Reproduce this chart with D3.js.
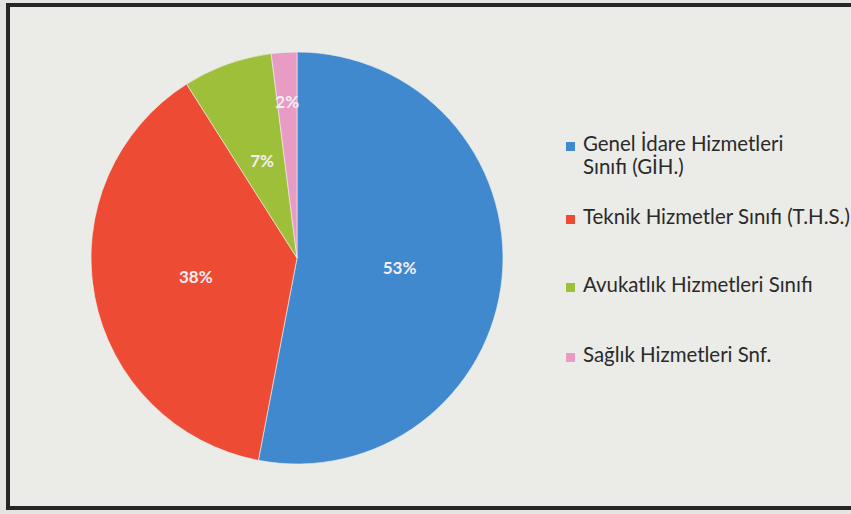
<!DOCTYPE html>
<html>
<head>
<meta charset="utf-8">
<script src="https://cdn.jsdelivr.net/npm/d3@7"></script>
<style>
  html, body { margin: 0; padding: 0; background: #e6e6e3; }
  svg { display: block; }
</style>
</head>
<body>
<svg id="chart" width="851" height="514"></svg>
<script>
// Data
const categories = [
  "Genel İdare Hizmetleri Sınıfı (GİH.)",
  "Teknik Hizmetler Sınıfı (T.H.S.)",
  "Avukatlık Hizmetleri Sınıfı",
  "Sağlık Hizmetleri Snf."
];
const legendLines = [
  ["Genel İdare Hizmetleri", "Sınıfı (GİH.)"],
  ["Teknik Hizmetler Sınıfı (T.H.S.)"],
  ["Avukatlık Hizmetleri Sınıfı"],
  ["Sağlık Hizmetleri Snf."]
];
const values = [53, 38, 7, 2];
const colors = ["#4189cf", "#ee4b34", "#9dbf3a", "#e89cc4"];

const W = 851, H = 514;
const svg = d3.select("#chart");
const font = "Lato, 'Open Sans', sans-serif";

// frame background
svg.append("rect").attr("x", 0).attr("y", 0).attr("width", W).attr("height", H).attr("fill", "#e4e4e1");
svg.append("rect").attr("x", 8).attr("y", 5).attr("width", W).attr("height", 503)
  .attr("fill", "#ebebe8").attr("stroke", "#262626").attr("stroke-width", 4);

const cx = 297, cy = 258, r = 206;
const total = d3.sum(values);
const pie = d3.pie().sort(null).value(d => d)(values);
const arc = d3.arc().innerRadius(0).outerRadius(r);

const g = svg.append("g").attr("transform", `translate(${cx},${cy})`);
g.selectAll("path").data(pie).join("path")
  .attr("d", arc)
  .attr("fill", (d, i) => colors[i])
  .attr("stroke", "#f2f2f0").attr("stroke-width", 0.6);

g.selectAll("text").data(pie).join("text")
  .attr("transform", d => {
    const frac = d.data / total;
    const lr = frac < 0.04 ? r * 0.76 : r * 0.5;
    const a = (d.startAngle + d.endAngle) / 2;
    return `translate(${lr * Math.sin(a)},${-lr * Math.cos(a)})`;
  })
  .attr("text-anchor", "middle")
  .attr("dy", "0.35em")
  .attr("fill", "#f4eef4")
  .attr("font-family", font)
  .attr("font-weight", "bold")
  .attr("font-size", 17)
  .text(d => Math.round(d.data / total * 100) + "%");

// Legend
const baselines = [[151, 174], [224], [292], [362]];
const lg = svg.append("g");
// fit legend font to the measured width of the longest line
const probe = lg.append("text").attr("font-family", font).attr("font-size", 20)
  .text(legendLines[1][0]);
const pw = probe.node().getComputedTextLength();
probe.remove();
const legendFont = 20 * 267 / pw;

legendLines.forEach((lines, i) => {
  lg.append("rect")
    .attr("x", 566).attr("y", baselines[i][0] - 9)
    .attr("width", 9).attr("height", 9)
    .attr("fill", colors[i]);
  lines.forEach((t, j) => {
    lg.append("text")
      .attr("x", 583).attr("y", baselines[i][j])
      .attr("fill", "#2a2a2a")
      .attr("font-family", font)
      .attr("font-size", legendFont)
      .text(t);
  });
});
</script>
</body>
</html>
